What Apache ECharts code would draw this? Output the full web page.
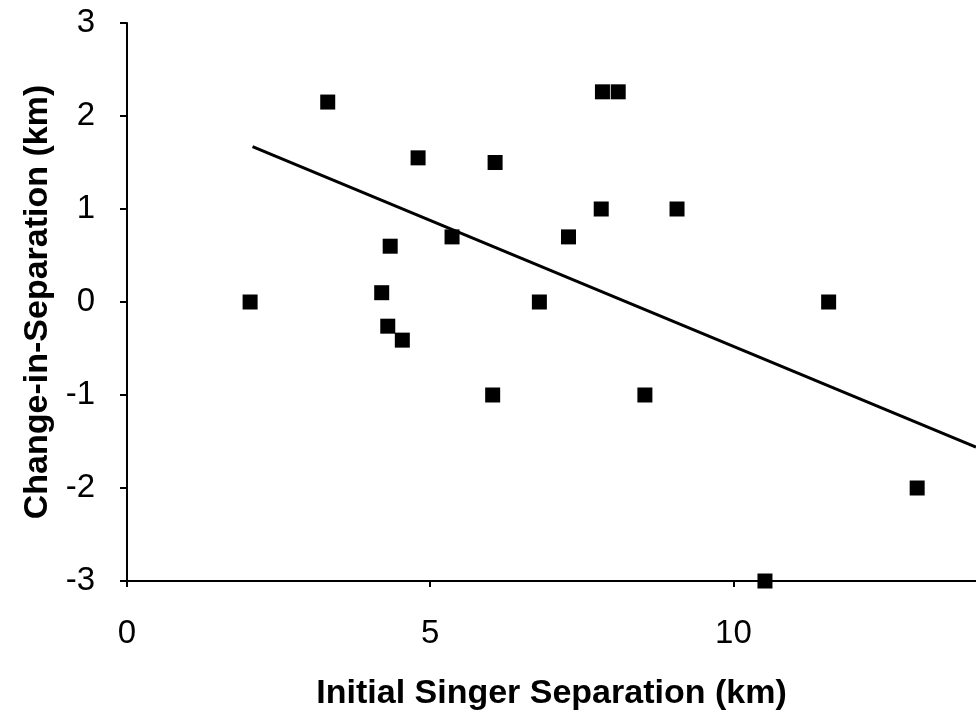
<!DOCTYPE html>
<html>
<head>
<meta charset="utf-8">
<script src="https://cdn.jsdelivr.net/npm/echarts@6/dist/echarts.min.js"></script>
<style>html,body{margin:0;padding:0;background:#fff}#c{width:976px;height:717px}</style>
</head>
<body>
<div id="c"></div>
<script>
var xValues = [2.03, 3.31, 4.2, 4.34, 4.3, 4.54, 4.8, 5.36, 6.07, 6.03, 6.8, 7.28, 7.82, 7.84, 8.1, 8.54, 9.07, 10.52, 11.57, 13.03];
var yValues = [0, 2.15, 0.1, 0.6, -0.26, -0.41, 1.55, 0.7, 1.5, -1.0, 0, 0.7, 1.0, 2.26, 2.26, -1.0, 1.0, -3.0, 0, -2.0];
var trendX = [2.07, 14];
var trendY = [1.67, -1.56];
var xTitle = 'Initial Singer Separation (km)';
var yTitle = 'Change-in-Separation (km)';

var points = xValues.map(function (x, i) { return [x, yValues[i]]; });
var trend = trendX.map(function (x, i) { return [x, trendY[i]]; });
var font = '"Liberation Sans", Arial, Helvetica, sans-serif';

var chart = echarts.init(document.getElementById('c'));
chart.setOption({
  animation: false,
  grid: { left: 127, top: 23, right: -5, bottom: 136, containLabel: false },
  xAxis: {
    type: 'value', min: 0, max: 14, interval: 5,
    name: xTitle, nameLocation: 'middle', nameGap: 96,
    nameTextStyle: { fontFamily: font, fontWeight: 'bold', fontSize: 34, color: '#000' },
    axisLine: { show: true, onZero: false, lineStyle: { color: '#000', width: 2 } },
    axisTick: { show: true, length: 6, lineStyle: { color: '#000', width: 2 } },
    axisLabel: { fontFamily: font, fontSize: 33, color: '#000', margin: 36, showMaxLabel: false },
    splitLine: { show: false }
  },
  yAxis: {
    type: 'value', min: -3, max: 3, interval: 1,
    name: yTitle, nameLocation: 'middle', nameGap: 71,
    nameTextStyle: { fontFamily: font, fontWeight: 'bold', fontSize: 34, color: '#000' },
    axisLine: { show: true, onZero: false, lineStyle: { color: '#000', width: 2 } },
    axisTick: { show: true, length: 7, lineStyle: { color: '#000', width: 2 } },
    axisLabel: { fontFamily: font, fontSize: 33, color: '#000', margin: 32 },
    splitLine: { show: false }
  },
  series: [
    {
      type: 'line', data: trend, symbol: 'none', clip: true,
      lineStyle: { color: '#000', width: 3 }, z: 2
    },
    {
      type: 'scatter', data: points, symbol: 'rect', symbolSize: 15,
      itemStyle: { color: '#000', opacity: 1 }, z: 3
    }
  ]
});
</script>
</body>
</html>
